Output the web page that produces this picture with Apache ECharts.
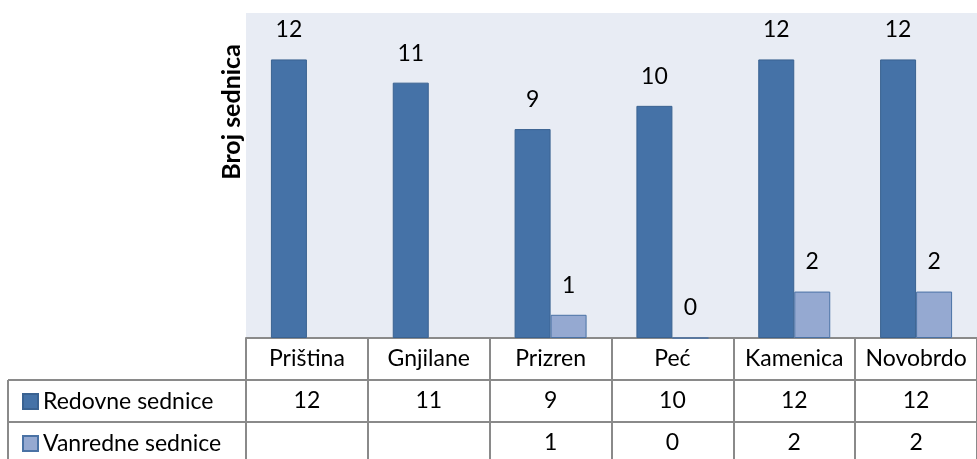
<!DOCTYPE html>
<html>
<head>
<meta charset="utf-8">
<script src="https://cdn.jsdelivr.net/npm/echarts@6/dist/echarts.min.js"></script>
<style>
  html, body { margin: 0; padding: 0; background: #fff; }
  #chart { width: 977px; height: 459px; }
</style>
</head>
<body>
<div id="chart"></div>
<script>
var categories = ['Priština', 'Gnjilane', 'Prizren', 'Peć', 'Kamenica', 'Novobrdo'];
var redovne = [12, 11, 9, 10, 12, 12];
var vanredne = [null, null, 1, 0, 2, 2];
var seriesNames = ['Redovne sednice', 'Vanredne sednice'];
var yTitle = 'Broj sednica';

var chart = echarts.init(document.getElementById('chart'));
var font = 'Lato, "Open Sans", sans-serif';
var fs = 23;
var lineColor = '#8a8a8a';
var rowH = 42;

function tableAxis(offset, formatter) {
  return {
    type: 'category',
    data: categories,
    position: 'bottom',
    offset: offset,
    axisLine: { show: true, lineStyle: { color: lineColor, width: 2 } },
    axisTick: { show: true, length: rowH, lineStyle: { color: lineColor, width: 2 } },
    axisLabel: {
      show: true, interval: 0, margin: 9,
      color: '#000', fontSize: fs, fontFamily: font,
      formatter: formatter
    }
  };
}

// one legend per table row
function rowLegend(name, top) {
  return {
    orient: 'vertical',
    left: 17, top: top,
    icon: 'rect',
    itemWidth: 15, itemHeight: 15,
    textStyle: { color: '#000', fontSize: fs, fontFamily: font },
    data: [name]
  };
}

var option = {
  animation: false,
  textStyle: { fontFamily: font },
  grid: {
    left: 246, right: -10, top: 13, bottom: 121,
    show: true, backgroundColor: '#e8ecf4', borderWidth: 0
  },
  legend: [
    rowLegend(seriesNames[0], 385),
    rowLegend(seriesNames[1], 427)
  ],
  xAxis: [
    tableAxis(0, function (v) { return v; }),
    tableAxis(rowH, function (v, i) { return redovne[i] == null ? '' : String(redovne[i]); }),
    tableAxis(rowH * 2, function (v, i) { return vanredne[i] == null ? '' : String(vanredne[i]); })
  ],
  yAxis: {
    type: 'value', min: 0, max: 14,
    axisLine: { show: false }, axisTick: { show: false },
    axisLabel: { show: false }, splitLine: { show: false }
  },
  series: [
    {
      name: seriesNames[0], type: 'bar', xAxisIndex: 0,
      barWidth: 36, barGap: 0,
      data: redovne,
      itemStyle: { color: '#4572a7', borderColor: '#3a6291', borderWidth: 1 },
      label: { show: true, position: 'top', distance: 18, color: '#000', fontSize: fs, fontFamily: font }
    },
    {
      name: seriesNames[1], type: 'bar', xAxisIndex: 0,
      barWidth: 36, barGap: 0,
      data: vanredne,
      itemStyle: { color: '#95a9d1', borderColor: '#4a72a5', borderWidth: 1 },
      label: { show: true, position: 'top', distance: 18, color: '#000', fontSize: fs, fontFamily: font }
    }
  ],
  graphic: [
    {
      type: 'text', x: 232, y: 112, rotation: Math.PI / 2,
      style: {
        text: yTitle, fill: '#000', fontSize: 25, fontWeight: 'bold', fontFamily: font,
        align: 'center', verticalAlign: 'middle'
      }
    },
    { type: 'line', shape: { x1: 8, y1: 380, x2: 246, y2: 380 }, style: { stroke: lineColor, lineWidth: 2 } },
    { type: 'line', shape: { x1: 8, y1: 422, x2: 246, y2: 422 }, style: { stroke: lineColor, lineWidth: 2 } },
    { type: 'line', shape: { x1: 8, y1: 380, x2: 8, y2: 470 }, style: { stroke: lineColor, lineWidth: 2 } }
  ]
};

chart.setOption(option);
</script>
</body>
</html>
